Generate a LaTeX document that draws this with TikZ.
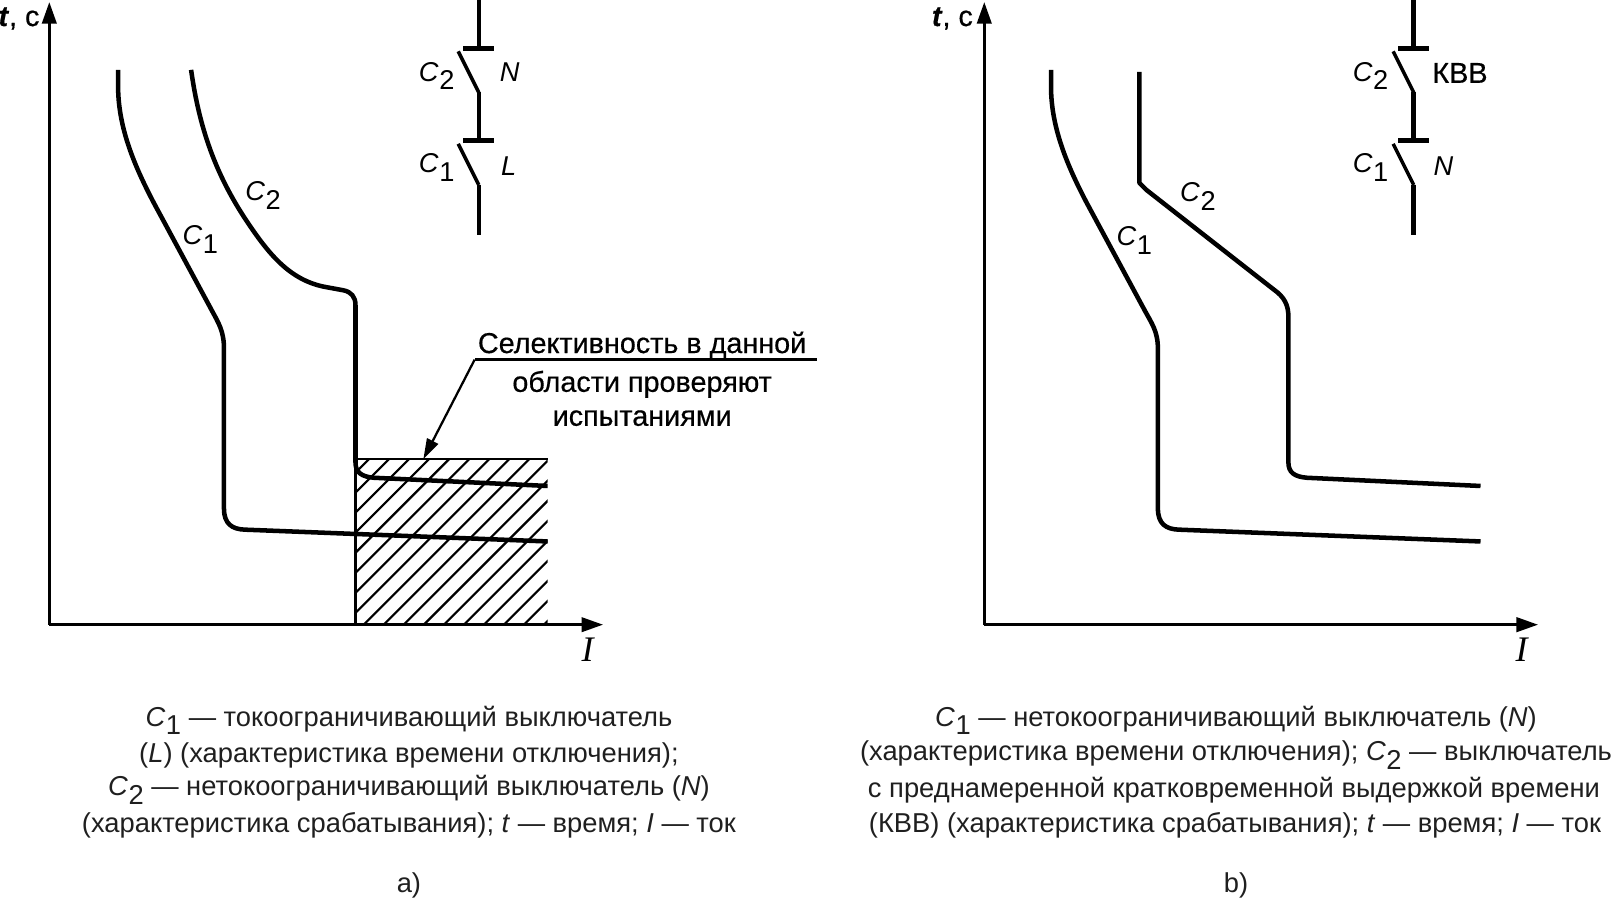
\documentclass[tikz,border=0pt]{standalone}
\usepackage{fontspec}
\setmainfont{Liberation Sans}
\newfontfamily\serifI{Liberation Serif}
\newfontfamily\heavy[FakeBold=0.5]{Liberation Sans}
\usetikzlibrary{arrows.meta}
\newcommand{\Csub}[1]{\textit{C}\kern0.02em\raisebox{-0.32em}{#1}}
\tikzset{
  axisline/.style={line width=2.8pt,-{Triangle[length=21pt,width=14pt]}},
  curve/.style={line width=4.4pt,line join=round},
  wire/.style={line width=4.4pt},
  blade/.style={line width=3.4pt},
  hatchline/.style={line width=2.1pt},
  lbl/.style={font=\fontsize{26.5}{30}\selectfont,inner sep=0pt},
  captext/.style={font=\fontsize{26.6}{30}\selectfont,inner sep=0pt,text=black!88},
  big/.style={font=\heavy\fontsize{28}{30}\selectfont,inner sep=0pt},
  axisI/.style={font=\serifI\itshape\fontsize{35}{36}\selectfont,inner sep=0pt},
}
\begin{document}
\begin{tikzpicture}[x=1pt,y=-1pt]
\useasboundingbox (0,0) rectangle (1568,875);
\clip (0,0) rectangle (1568,875);
% ---------- panel a
\coordinate (Oa) at (48,608);
\coordinate (Ya) at (48,2);
\coordinate (Xa) at (587,608);
\begin{scope}
  \clip (346,447) rectangle (533,608);
  \foreach \k in {-10,...,10} {
    \draw[hatchline] ({354+19.5*\k},608) -- ({354+19.5*\k+170},438);
  }
\end{scope}
\draw[line width=2.2pt] (346,447) -- (533,447);
\draw[line width=3pt] (346,447) -- (346,608);
\draw[axisline] (Oa) -- (Ya);
\draw[axisline] (Oa) -- (Xa);
\draw[curve] (115,68) -- (115,88) .. controls (116,125) and (130,160) .. (150,198)
  -- (205,300) .. controls (213,315) and (218,322) .. (218,340)
  -- (218,495) .. controls (218,510) and (226,515) .. (238,515.5) -- (533,527);
\draw[curve] (186,68) .. controls (194,125) and (210,170) .. (240,215)
  .. controls (262,248) and (282,272) .. (315,279)
  -- (334,282.5) .. controls (342,284) and (346,289) .. (346,297)
  -- (346,450) .. controls (346,460) and (352,464) .. (364,465) -- (533,473);
\node[lbl] (c1a) at (195,233) {\Csub{1}};
\node[lbl] (c2a) at (256,190) {\Csub{2}};
% switches a
\coordinate (sa0) at (466,-2);
\coordinate (sa1) at (466,47);
\coordinate (sa2) at (466,90);
\coordinate (sa3) at (466,137);
\coordinate (sa4) at (466,180);
\coordinate (sa5) at (466,229);
\draw[wire] (sa0) -- (sa1) (sa2) -- (sa3) (sa4) -- (sa5);
\draw[wire] (451,47) -- (481,47) (451,137) -- (481,137);
\draw[blade] (sa2) -- (446,50) (sa4) -- (446,140);
\node[lbl] (lc2a) at (425,74) {\Csub{2}};
\node[lbl] (lc1a) at (425,163) {\Csub{1}};
\node[lbl] (lna) at (496,70) {\textit{N}};
\node[lbl] (lla) at (495,162) {\textit{L}};
\node[big] (ta) at (18.5,18) {\textbf{\textit{t}}, с};
\node[axisI] (ia) at (572,632) {I};
% selectivity note
\coordinate (la) at (462,350);
\coordinate (lb) at (795,350);
\coordinate (lt) at (412,447);
\node[big] (n1) at (625,336) {Селективность в данной};
\node[big] (n2) at (625,374) {области проверяют};
\node[big] (n3) at (625,407) {испытаниями};
\draw[line width=2.2pt] (lb) -- (la);
\draw[line width=2.2pt,-{Triangle[length=20pt,width=12pt]}] (la) -- (lt);
% caption a
\node[captext] (ca1) at (398,701) {\Csub{1} — токоограничивающий выключатель};
\node[captext] (ca2) at (398,735) {(\textit{L}) (характеристика времени отключения);};
\node[captext] (ca3) at (398,769) {\Csub{2} — нетокоограничивающий выключатель (\textit{N})};
\node[captext] (ca4) at (398,803) {(характеристика срабатывания); \textit{t} — время; \textit{I} — ток};
\node[captext] (ca5) at (398,862) {a)};
% ---------- panel b
\coordinate (Ob) at (958,608);
\coordinate (Yb) at (958,2);
\coordinate (Xb) at (1497,608);
\draw[axisline] (Ob) -- (Yb);
\draw[axisline] (Ob) -- (Xb);
\draw[curve] (1023,68) -- (1023,88) .. controls (1024,125) and (1038,160) .. (1058,198)
  -- (1113,300) .. controls (1121,315) and (1127,322) .. (1127,340)
  -- (1127,495) .. controls (1127,510) and (1135,515) .. (1147,515.5) -- (1441,527);
\draw[curve] (1109,70) -- (1109,178) -- (1116,185)
  -- (1240,282) .. controls (1250,289) and (1254,297) .. (1254,308)
  -- (1254,450) .. controls (1254,460) and (1260,464) .. (1272,465) -- (1441,473);
\node[lbl] (c1b) at (1104,234) {\Csub{1}};
\node[lbl] (c2b) at (1166,191) {\Csub{2}};
\coordinate (sb0) at (1376,-2);
\coordinate (sb1) at (1376,47);
\coordinate (sb2) at (1376,90);
\coordinate (sb3) at (1376,137);
\coordinate (sb4) at (1376,180);
\coordinate (sb5) at (1376,229);
\draw[wire] (sb0) -- (sb1) (sb2) -- (sb3) (sb4) -- (sb5);
\draw[wire] (1361,47) -- (1391,47) (1361,137) -- (1391,137);
\draw[blade] (sb2) -- (1356,50) (sb4) -- (1356,140);
\node[lbl] (lc2b) at (1334,74) {\Csub{2}};
\node[lbl] (lc1b) at (1334,163) {\Csub{1}};
\node[big] (lnb) at (1421,71) {КВВ};
\node[lbl] (llb) at (1405,162) {\textit{N}};
\node[big] (tb) at (927,18) {\textbf{\textit{t}}, с};
\node[axisI] (ib) at (1481,632) {I};
% caption b
\node[captext] (cb1) at (1203,701) {\Csub{1} — нетокоограничивающий выключатель (\textit{N})};
\node[captext] (cb2) at (1203,735) {(характеристика времени отключения); \Csub{2} — выключатель};
\node[captext] (cb3) at (1201,769) {с преднамеренной кратковременной выдержкой времени};
\node[captext] (cb4) at (1202,803) {(КВВ) (характеристика срабатывания); \textit{t} — время; \textit{I} — ток};
\node[captext] (cb5) at (1203,862) {b)};
\end{tikzpicture}
\end{document}
